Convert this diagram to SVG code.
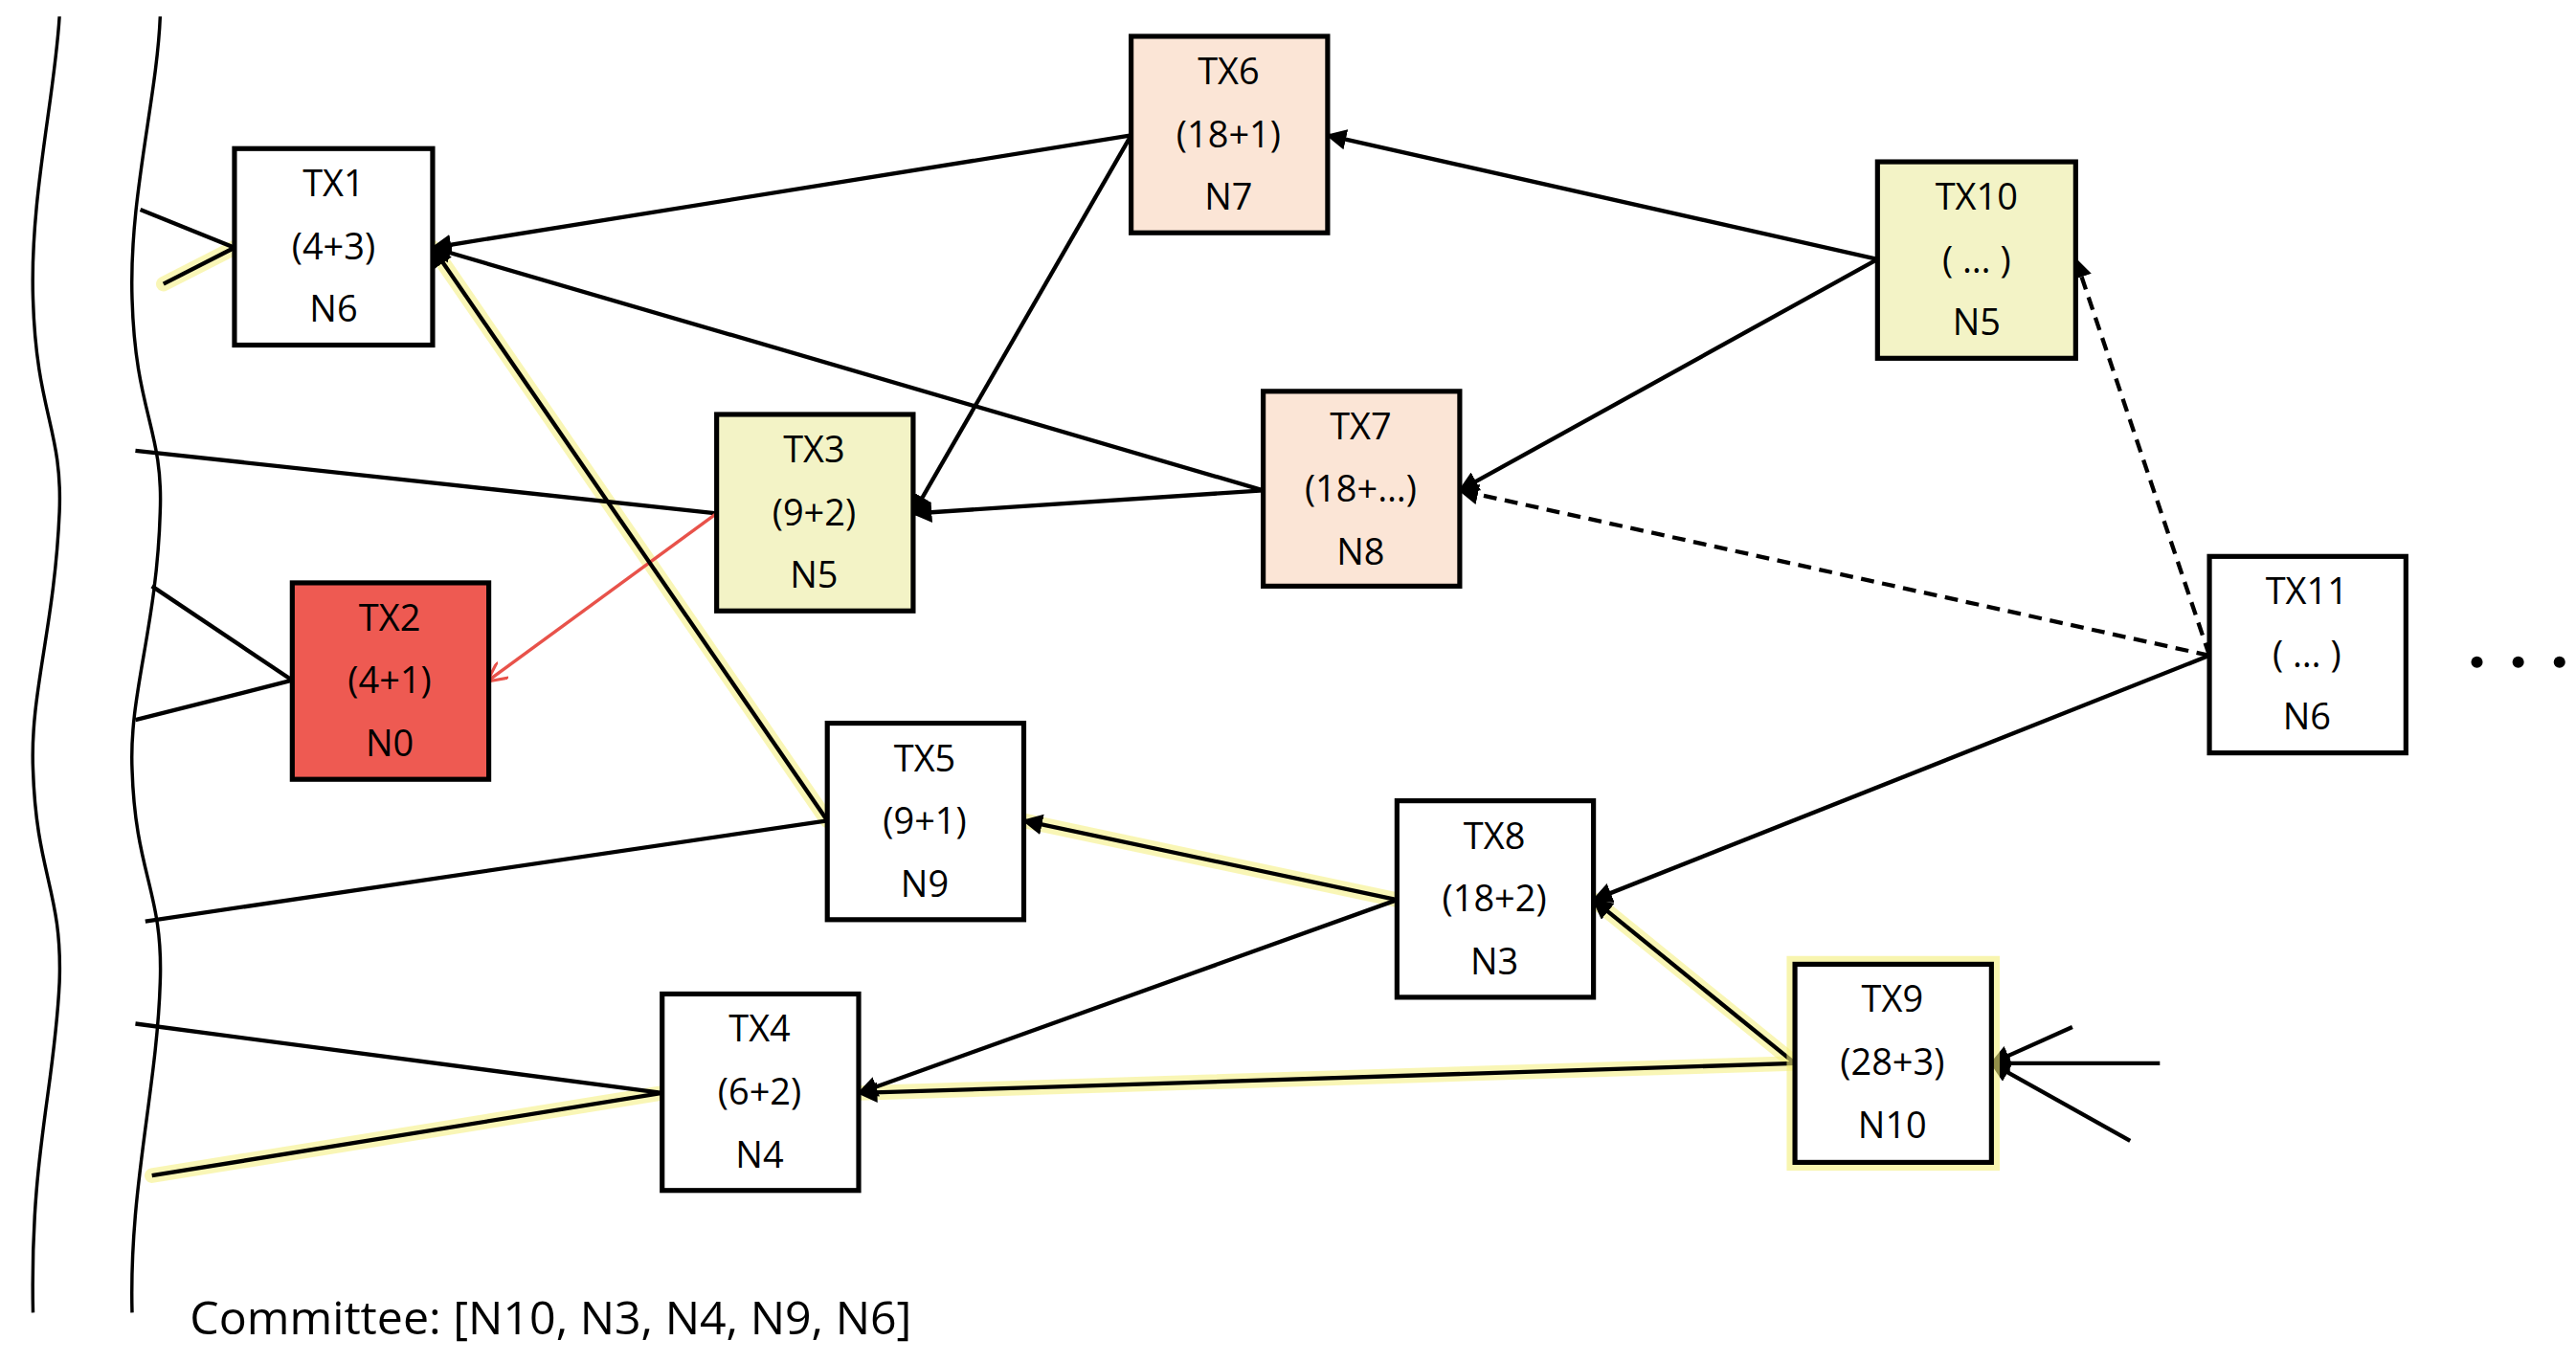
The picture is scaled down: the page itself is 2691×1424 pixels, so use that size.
<svg xmlns="http://www.w3.org/2000/svg" width="2691" height="1424" viewBox="0 0 2691 1424">
<style>
.box{stroke:#000;stroke-width:3}
.t{font-family:"Open Sans","Liberation Sans",sans-serif;font-size:22px;text-anchor:middle;fill:#000}
.e{stroke:#000;stroke-width:2.5;fill:none}
.g{stroke:#f4ef7a;stroke-width:9;stroke-opacity:0.55;fill:none;stroke-linecap:round}
.w{stroke:#000;stroke-width:2;fill:none}
</style>
<defs>
<marker id="a" viewBox="0 0 10 10" refX="9" refY="5" markerWidth="5" markerHeight="5" orient="auto"><path d="M0,0L10,5L0,10z" fill="#000"/></marker>
<marker id="r" viewBox="0 0 10 10" refX="9" refY="5" markerWidth="6" markerHeight="6" orient="auto"><path d="M0,0L10,5L0,10" fill="none" stroke="#e8524a" stroke-width="1.5"/></marker>
</defs>
<rect width="2691" height="1424" fill="#fff"/>
<g transform="scale(1.725)">
<g id="walls">
<path class="w" d="M36,10 C33,60 18,120 20,181 C22,250 38,260 36,310 C33,380 18,420 20,466 C22,530 38,540 36,595 C33,660 18,700 20,795"/>
<path class="w" d="M97,10 C95,60 78,120 80,181 C82,250 99,260 97,310 C95,380 78,420 80,466 C82,530 99,540 97,595 C95,660 78,720 80,795"/>
</g>
<g id="connectors">
<path class="g" d="M99,172L142,150"/>
<path class="g" d="M501,497L262,150"/>
<path class="g" d="M846,545L620,497"/>
<path class="g" d="M1087,644L965,545"/>
<path class="g" d="M1087,644L520,662"/>
<path class="g" d="M92,712L401,662"/>
<path class="e" d="M85,127L142,150"/>
<path class="e" d="M99,172L142,150"/>
<path class="e" d="M685,82L262,150" marker-end="url(#a)"/>
<path class="e" d="M765,297L262,150" marker-end="url(#a)"/>
<path class="e" d="M685,82L553,311" marker-end="url(#a)"/>
<path class="e" d="M1137,157L804,82" marker-end="url(#a)"/>
<path class="e" d="M1137,157L884,297" marker-end="url(#a)"/>
<path class="e" d="M1338,397L884,297" stroke-dasharray="8,5" marker-end="url(#a)"/>
<path class="e" d="M1338,397L1257,157" stroke-dasharray="8,5" marker-end="url(#a)"/>
<path class="e" d="M1338,397L965,545" marker-end="url(#a)"/>
<path class="e" d="M765,297L553,311" marker-end="url(#a)"/>
<path class="e" d="M82,273L434,311"/>
<path d="M434,311L296,412" stroke="#e8524a" stroke-width="2" fill="none" marker-end="url(#r)"/>
<path class="e" d="M92,355L177,412"/>
<path class="e" d="M82,436L177,412"/>
<path class="e" d="M501,497L262,150" marker-end="url(#a)"/>
<path class="e" d="M88,558L501,497"/>
<path class="e" d="M846,545L620,497" marker-end="url(#a)"/>
<path class="e" d="M846,545L520,662" marker-end="url(#a)"/>
<path class="e" d="M1087,644L965,545" marker-end="url(#a)"/>
<path class="e" d="M1087,644L520,662" marker-end="url(#a)"/>
<path class="e" d="M82,620L401,662"/>
<path class="e" d="M92,712L401,662"/>
<path class="e" d="M1255,622L1206,644" marker-end="url(#a)"/>
<path class="e" d="M1308,644L1206,644" marker-end="url(#a)"/>
<path class="e" d="M1290,691L1206,644" marker-end="url(#a)"/>
</g>
<g id="TX1"><rect class="box" x="142" y="90" width="120" height="119" fill="#fff"/><text class="t" x="202" y="119">TX1</text><text class="t" x="202" y="157">(4+3)</text><text class="t" x="202" y="195">N6</text></g>
<g id="TX6"><rect class="box" x="685" y="22" width="119" height="119" fill="#fbe5d6"/><text class="t" x="744" y="51">TX6</text><text class="t" x="744" y="89">(18+1)</text><text class="t" x="744" y="127">N7</text></g>
<g id="TX10"><rect class="box" x="1137" y="98" width="120" height="119" fill="#f3f3c6"/><text class="t" x="1197" y="127">TX10</text><text class="t" x="1197" y="165">( … )</text><text class="t" x="1197" y="203">N5</text></g>
<g id="TX7"><rect class="box" x="765" y="237" width="119" height="118" fill="#fbe5d6"/><text class="t" x="824" y="266">TX7</text><text class="t" x="824" y="304">(18+…)</text><text class="t" x="824" y="342">N8</text></g>
<g id="TX3"><rect class="box" x="434" y="251" width="119" height="119" fill="#f3f3c6"/><text class="t" x="493" y="280">TX3</text><text class="t" x="493" y="318">(9+2)</text><text class="t" x="493" y="356">N5</text></g>
<g id="TX2"><rect class="box" x="177" y="353" width="119" height="119" fill="#ee5a52"/><text class="t" x="236" y="382">TX2</text><text class="t" x="236" y="420">(4+1)</text><text class="t" x="236" y="458">N0</text></g>
<g id="TX11"><rect class="box" x="1338" y="337" width="119" height="119" fill="#fff"/><text class="t" x="1397" y="366">TX11</text><text class="t" x="1397" y="404">( … )</text><text class="t" x="1397" y="442">N6</text></g>
<g id="TX5"><rect class="box" x="501" y="438" width="119" height="119" fill="#fff"/><text class="t" x="560" y="467">TX5</text><text class="t" x="560" y="505">(9+1)</text><text class="t" x="560" y="543">N9</text></g>
<g id="TX8"><rect class="box" x="846" y="485" width="119" height="119" fill="#fff"/><text class="t" x="905" y="514">TX8</text><text class="t" x="905" y="552">(18+2)</text><text class="t" x="905" y="590">N3</text></g>
<g id="TX9"><rect x="1087" y="584" width="119" height="120" fill="none" stroke="#f4ef7a" stroke-width="10" stroke-opacity="0.6"/><rect class="box" x="1087" y="584" width="119" height="120" fill="#fff"/><text class="t" x="1146" y="613">TX9</text><text class="t" x="1146" y="651">(28+3)</text><text class="t" x="1146" y="689">N10</text></g>
<g id="TX4"><rect class="box" x="401" y="602" width="119" height="119" fill="#fff"/><text class="t" x="460" y="631">TX4</text><text class="t" x="460" y="669">(6+2)</text><text class="t" x="460" y="707">N4</text></g>
<g id="dots"><circle cx="1500" cy="401" r="3.5"/><circle cx="1525" cy="401" r="3.5"/><circle cx="1550" cy="401" r="3.5"/></g>
<text x="115" y="808" style="font-family:'Open Sans','Liberation Sans',sans-serif;font-size:28px">Committee: [N10, N3, N4, N9, N6]</text>
</g>
</svg>
